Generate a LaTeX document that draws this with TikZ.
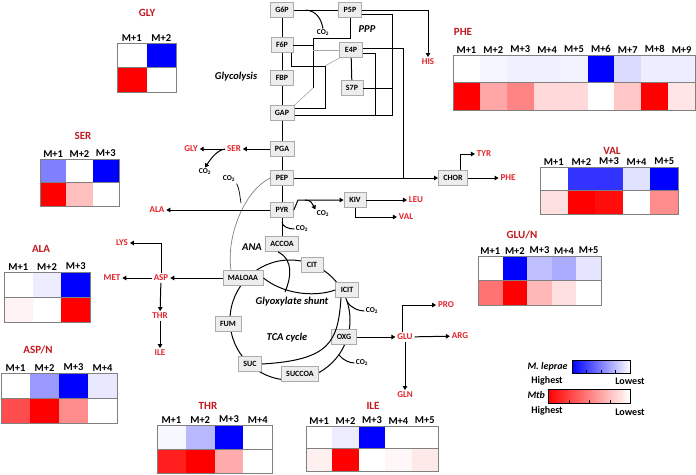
\documentclass[tikz,border=0pt]{standalone}
\usepackage{fontspec}
\setmainfont{Carlito}
\usetikzlibrary{arrows.meta}

\definecolor{aared}{HTML}{E3242B}
\definecolor{ttlred}{HTML}{C0181E}
\definecolor{boxfill}{HTML}{EDEDED}
\definecolor{boxline}{HTML}{ABABAB}
\definecolor{frameline}{HTML}{808080}

% One heat map: M. leprae in the top row, Mtb in the bottom row.
% #1 name, #2 columns, #3 left, #4 top, #5 cell width, #6 cell height,
% #7 list of column/blue shade/red shade
\newcommand{\heatmap}[7]{%
  \foreach \col/\tp/\bt in {#7} {
    \fill[blue!\tp!white] ({#3+(\col-1)*#5},#4) rectangle ++(#5,#6);
    \fill[red!\bt!white] ({#3+(\col-1)*#5},{#4+#6}) rectangle ++(#5,#6);
    \node[mlbl,anchor=south] (#1-m\col) at ({#3+(\col-0.5)*#5},{#4-0.5}) {M+\col};
  }
  \draw[hmframe] (#3,#4) rectangle ++({#2*#5},{2*#6});
  \draw[hmframe] (#3,{#4+#6}) -- ++({#2*#5},0);
}

\begin{document}
\begin{tikzpicture}[
  x=1pt, y=-1pt,
  line width=1pt,
  metbox/.style={draw=boxline,fill=boxfill,line width=0.8pt,minimum width=22pt,
    minimum height=15pt,inner xsep=5pt,inner ysep=2pt,font=\fontsize{8}{9}\selectfont\bfseries},
  aalbl/.style={text=aared,inner sep=1.5pt,font=\fontsize{9}{10}\selectfont\bfseries},
  co2lbl/.style={inner sep=1pt,font=\fontsize{7.5}{8}\selectfont\bfseries},
  pwlbl/.style={font=\fontsize{10.5}{12}\selectfont\bfseries\itshape},
  flow/.style={-{Triangle[length=4pt,width=4.5pt]}},
  thinline/.style={line width=0.6pt,draw=gray!70},
  hmtitle/.style={text=ttlred,font=\fontsize{11}{12}\selectfont\bfseries},
  mlbl/.style={inner sep=1pt,font=\fontsize{10.5}{12}\selectfont\bfseries},
  hmframe/.style={draw=frameline,line width=0.8pt},
  legtext/.style={inner sep=1pt,font=\fontsize{10}{11}\selectfont\bfseries},
  legkey/.style={inner sep=1pt,anchor=west,font=\fontsize{10}{11}\selectfont\bfseries\itshape},
]
\useasboundingbox (0,0) rectangle (696,474);

%--- TCA cycle ring, drawn first so the boxes sit on it ----------------------
\coordinate (tca) at (290,320);
\draw (tca) circle[radius=60pt];

%--- metabolites -------------------------------------------------------------
\node[metbox] (g6p) at (282,10) {G6P};
\node[metbox] (p5p) at (350,10) {P5P};
\node[metbox] (f6p) at (282,45) {F6P};
\node[metbox] (e4p) at (351,50) {E4P};
\node[metbox] (fbp) at (282,78) {FBP};
\node[metbox] (s7p) at (352,88) {S7P};
\node[metbox] (gap) at (282,113) {GAP};
\node[metbox] (pga) at (282,149) {PGA};
\node[metbox] (pep) at (282,178) {PEP};
\node[metbox] (pyr) at (282,210) {PYR};
\node[metbox] (kiv) at (355,200) {KIV};
\node[metbox] (chor) at (453,178) {CHOR};
\node[metbox] (accoa) at (282,244) {ACCOA};
\node[metbox] (cit) at (312,265) {CIT};
\node[metbox] (maloaa) at (243,278) {MALOAA};
\node[metbox] (icit) at (347,290) {ICIT};
\node[metbox] (fum) at (228,324) {FUM};
\node[metbox] (oxg) at (344,337) {OXG};
\node[metbox] (suc) at (250,364) {SUC};
\node[metbox] (succoa) at (300,374) {SUCCOA};

%--- amino acids -------------------------------------------------------------
\node[aalbl] (his) at (428,62) {HIS};
\node[aalbl] (ser) at (234,149) {SER};
\node[aalbl] (gly) at (191,149) {GLY};
\node[aalbl] (ala) at (157,210) {ALA};
\node[aalbl] (leu) at (416,200) {LEU};
\node[aalbl] (val) at (406,217) {VAL};
\node[aalbl] (tyr) at (484,154) {TYR};
\node[aalbl] (phe) at (508,178) {PHE};
\node[aalbl] (asp) at (161,278) {ASP};
\node[aalbl] (lys) at (122,243) {LYS};
\node[aalbl] (met) at (112,278) {MET};
\node[aalbl] (thr) at (160,316) {THR};
\node[aalbl] (ile) at (160,353) {ILE};
\node[aalbl] (glu) at (405,337) {GLU};
\node[aalbl] (pro) at (446,305) {PRO};
\node[aalbl] (arg) at (460,336) {ARG};
\node[aalbl] (gln) at (405,395) {GLN};

%--- released CO2 and pathway names ------------------------------------------
\node[co2lbl] (co2a) at (323,33) {CO\textsubscript{2}};
\node[co2lbl] (co2b) at (205,172) {CO\textsubscript{2}};
\node[co2lbl] (co2c) at (229,179) {CO\textsubscript{2}};
\node[co2lbl] (co2d) at (323,214) {CO\textsubscript{2}};
\node[co2lbl] (co2e) at (302,229) {CO\textsubscript{2}};
\node[co2lbl] (co2f) at (372,311) {CO\textsubscript{2}};
\node[co2lbl] (co2g) at (362,363) {CO\textsubscript{2}};

\node[pwlbl] (glycolysis) at (236,77) {Glycolysis};
\node[pwlbl] (ppp) at (367,29) {PPP};
\node[pwlbl] (ana) at (252,247) {ANA};
\node[pwlbl] (glyox) at (292,302) {Glyoxylate shunt};
\node[pwlbl] (tcacyc) at (287,338) {TCA cycle};

%--- glycolysis and pentose phosphate pathway --------------------------------
\draw (g6p) -- (f6p) -- (fbp) -- (gap) -- (pga) -- (pep) -- (pyr) -- (accoa);
\draw (g6p) -- (p5p);
\coordinate (ppp-co) at (306,10);
\draw (ppp-co) .. controls (316,11) and (321,18) .. (co2a.north);

\coordinate (ppp-a) at (313,38);
\coordinate (ppp-b) at (313,88);
\draw (p5p.south) |- (ppp-a) -- (ppp-b);
\draw[thinline] (ppp-b) -- (gap.north east);
\draw (f6p.east) -- (f6p.east -| ppp-a);
\draw[thinline] (ppp-a |- e4p.west) -- (e4p.west);

\coordinate (ppp-d) at (325,66);
\draw ([xshift=9pt]f6p.south) |- (ppp-d) |- ([yshift=5pt]gap.east);
\draw[thinline] (ppp-d) -- (e4p.south west);
\draw (e4p) -- (s7p);

\coordinate (ppp-e) at (392,115);
\draw ([yshift=-4pt]p5p.east) -| (ppp-e) -- (ppp-e -| gap.east);
\draw (s7p.east) -- (s7p.east -| ppp-e);
\coordinate (ppp-f) at (375,115);
\draw ([yshift=-3pt]e4p.east) -| (ppp-f);
\coordinate (ppp-g) at (403,178);
\draw ([yshift=2pt]e4p.east) -| (ppp-g);
\draw[flow] (p5p.east) -| (his.north);

%--- branches off the trunk --------------------------------------------------
\draw[flow] (pga) -- (ser);
\draw[flow] (ser) -- (gly);
\draw[flow] (ser.west) .. controls +(-9,1) and +(4,-6) .. (co2b.north);

\draw[flow] (pep) -- (chor);
\draw[flow] (chor) -- (phe);
\draw[flow] ([xshift=-8pt]chor.north east) |- (tyr);

% anaplerotic route back from MALOAA to PEP
\draw[line width=0.7pt,gray] (pep.west) .. controls (245,190) and (226,235) .. ([xshift=-12pt]maloaa.north);
\coordinate (ana-j) at (241,203);
\draw[line width=0.7pt] (co2c.south east) .. controls +(3,5) and +(-1,-5) .. (ana-j);

\draw[flow] (pyr) -- (ala);
\coordinate (kiv-a) at (298,200);
\draw[flow] (pyr.east) -- (kiv-a) -- (kiv);
\coordinate (kiv-b) at (305,200);
\draw[flow] (kiv-b) .. controls +(6,0) and +(-3,-6) .. (co2d.north west);
\draw[flow] (kiv) -- (leu);
\draw[flow] (kiv.south) |- (val);

\coordinate (pyr-a) at (282,222);
\draw (pyr-a) .. controls +(0,5) and +(-5,0) .. (co2e.west);

%--- TCA cycle and glyoxylate shunt ------------------------------------------
\draw (maloaa.east) .. controls (282,293) and (312,298) .. (icit.west);
\coordinate (glx) at (285,292);
\draw ([xshift=-4pt]accoa.south) .. controls (294,260) and (291,278) .. (glx);
\draw ([xshift=-6pt]icit.south) .. controls (338,342) and (330,360) .. (suc.east);
\coordinate (tca-a) at (347,301);
\draw (tca-a) .. controls +(3,7) and +(-5,0) .. (co2f.west);
\coordinate (tca-b) at (339,355);
\draw (tca-b) .. controls +(4,5) and +(-5,0) .. (co2g.west);

\draw[flow] (oxg) -- (glu);
\draw[flow] ([xshift=-3pt]glu.north) |- (pro);
\draw[flow] (glu) -- (arg);
\draw[flow] (glu) -- (gln);

\draw[flow] (maloaa) -- (asp);
\draw[flow] (asp) -- (met);
\draw[flow] (asp.north) |- (lys);
\draw[flow] (asp) -- (thr);
\draw[flow] (thr) -- (ile);

%--- heat maps ---------------------------------------------------------------
\node[hmtitle] (gly-t) at (147,13) {GLY};
\heatmap{glyhm}{2}{117}{43}{29.5}{24.5}{1/0/100, 2/100/0}

\node[hmtitle] (phe-t) at (463,32) {PHE};
\heatmap{phehm}{9}{453}{55}{26.9}{27.5}{1/0/100, 2/4/35, 3/6/48, 4/6/15, 5/5/15, 6/100/0, 7/14/22, 8/7/100, 9/7/10}

\node[hmtitle] (val-t) at (612,151) {VAL};
\heatmap{valhm}{5}{540}{167}{27.6}{23.5}{1/0/12, 2/80/100, 3/80/95, 4/12/0, 5/100/45}

\node[hmtitle] (glu-t) at (522,235) {GLU/N};
\heatmap{gluhm}{5}{478}{256}{24.6}{24.5}{1/0/55, 2/100/100, 3/25/28, 4/33/12, 5/10/0}

\node[hmtitle] (ser-t) at (83,136) {SER};
\heatmap{serhm}{3}{40}{159}{26.3}{23.5}{1/50/100, 2/0/25, 3/100/0}

\node[hmtitle] (ala-t) at (41,249) {ALA};
\heatmap{alahm}{3}{4}{272}{28.7}{25}{1/0/5, 2/7/0, 3/100/100}

\node[hmtitle] (asp-t) at (38,350) {ASP/N};
\heatmap{asphm}{4}{1}{373}{29}{25}{1/0/70, 2/40/100, 3/100/45, 4/9/0}

\node[hmtitle] (thr-t) at (208,406) {THR};
\heatmap{thrhm}{4}{157}{425}{28.8}{24}{1/3/88, 2/28/100, 3/100/33, 4/0/0}

\node[hmtitle] (ile-t) at (373,406) {ILE};
\heatmap{ilehm}{5}{306}{426}{26.4}{22.5}{1/0/6, 2/7/100, 3/100/0, 4/0/3, 5/0/9}

%--- colour key --------------------------------------------------------------
\node[legkey] (lep-key) at (526,367) {M. leprae};
\shade[left color=blue,right color=white] (572,360) rectangle (630,373);
\draw[line width=0.8pt] (572,360) rectangle (630,373);
\foreach \tx in {586,601,615} \draw[line width=0.6pt] (\tx,373) -- ++(0,-3);
\node[legtext] (lep-hi) at (547,381) {Highest};
\node[legtext] (lep-lo) at (630,381) {Lowest};

\node[legkey] (mtb-key) at (526,395) {Mtb};
\shade[left color=red,right color=white] (548,389) rectangle (630,403);
\draw[line width=0.8pt] (548,389) rectangle (630,403);
\foreach \tx in {569,589,610} \draw[line width=0.6pt] (\tx,403) -- ++(0,-3);
\node[legtext] (mtb-hi) at (547,411) {Highest};
\node[legtext] (mtb-lo) at (630,412) {Lowest};

\end{tikzpicture}
\end{document}
